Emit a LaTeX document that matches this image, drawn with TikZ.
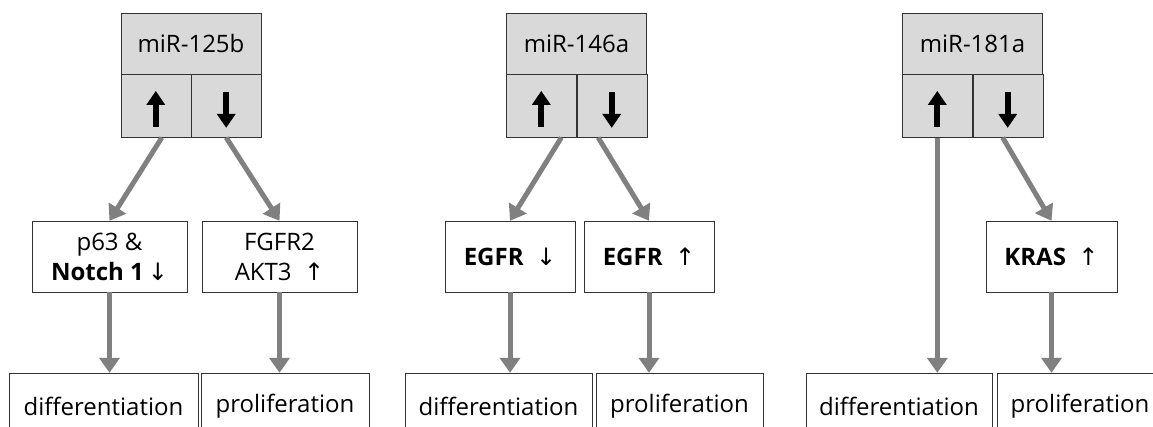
\documentclass[tikz,border=0pt]{standalone}
\usepackage{fontspec}
\setmainfont{Open Sans}
\newfontfamily\arrfont{DejaVu Sans}
\usepackage{xcolor}
\usepackage{tikz}
\usetikzlibrary{positioning,arrows.meta}
\definecolor{boxgray}{RGB}{217,217,217}
\definecolor{linkgray}{RGB}{128,128,128}

\begin{document}
\begin{tikzpicture}[x=1pt, y=1pt, node distance=213pt,
        font=\fontsize{24}{30}\selectfont,
        head/.style={draw=black!80, fill=boxgray, minimum width=140pt, minimum height=61pt, inner sep=0pt},
        cell/.style={draw=black!80, fill=boxgray, minimum width=70pt, minimum height=63pt, inner sep=0pt},
        gene/.style={draw=black!80, fill=white, minimum height=71pt, inner sep=0pt, align=center},
        fate/.style={draw=black!80, fill=white, minimum height=67pt, inner sep=0pt},
        link/.style={draw=linkgray, line width=5pt, -{Triangle[width=20pt,length=15pt]}},
        updown/.style={line width=6pt, -{Triangle[width=18pt,length=14pt]}}]
        \useasboundingbox (0,0) rectangle (1153,-427);
        \clip (0,0) rectangle (1153,-427);

        % miR-125b
        \node[head] (h1) at (191,-43.5) {miR-125b};
        \node[cell, anchor=north east] (u1) at (h1.south) {};
        \node[cell, anchor=north west] (d1) at (h1.south) {};
        \node[gene, minimum width=155pt] (m1) [below of=h1, xshift=-81.5pt] {p63 \&\\\textbf{Notch 1}\,{\arrfont ↓}};
        \node[gene, minimum width=155pt] (n1) [below of=h1, xshift=88.5pt] {FGFR2\\AKT3~~{\arrfont ↑}};
        \node[fate, minimum width=189pt] (f1) [below of=m1, node distance=150pt, xshift=-6pt] {differentiation};
        \node[fate, minimum width=168pt] (g1) [below of=n1, node distance=150pt, xshift=5.5pt] {proliferation};

        % miR-146a
        \node[head] (h2) [right of=h1, node distance=385.5pt] {miR-146a};
        \node[cell, anchor=north east] (u2) at (h2.south) {};
        \node[cell, anchor=north west] (d2) at (h2.south) {};
        \node[gene, minimum width=130pt] (m2) [below of=h2, xshift=-66.5pt] {\textbf{EGFR}~~{\arrfont ↓}};
        \node[gene, minimum width=130pt] (n2) [below of=h2, xshift=72.5pt] {\textbf{EGFR}~~{\arrfont ↑}};
        \node[fate, minimum width=187pt] (f2) [below of=m2, node distance=150pt, xshift=-11.5pt] {differentiation};
        \node[fate, minimum width=167pt] (g2) [below of=n2, node distance=150pt, xshift=30.5pt] {proliferation};

        % miR-181a
        \node[head] (h3) [right of=h2, node distance=396pt] {miR-181a};
        \node[cell, anchor=north east] (u3) at (h3.south) {};
        \node[cell, anchor=north west] (d3) at (h3.south) {};
        \node[gene, minimum width=131pt] (k3) [below of=h3, xshift=79pt] {\textbf{KRAS}~~{\arrfont ↑}};
        \node[fate, minimum width=186pt] (f3) [below of=h3, node distance=363pt, xshift=-73.5pt] {differentiation};
        \node[fate, minimum width=166pt] (g3) [below of=k3, node distance=150pt, xshift=28.5pt] {proliferation};

        % up / down marks
        \draw[updown] ([yshift=-21pt]u1.center) -- ([yshift=15pt]u1.center);
        \draw[updown] ([yshift=14pt]d1.center) -- ([yshift=-22pt]d1.center);
        \draw[updown] ([yshift=-21pt]u2.center) -- ([yshift=15pt]u2.center);
        \draw[updown] ([yshift=14pt]d2.center) -- ([yshift=-22pt]d2.center);
        \draw[updown] ([yshift=-21pt]u3.center) -- ([yshift=15pt]u3.center);
        \draw[updown] ([yshift=14pt]d3.center) -- ([yshift=-22pt]d3.center);

        \draw[link] ([xshift=6pt]u1.south) -- (m1.north);
        \draw[link] (d1.south) -- (n1.north);
        \draw[link] (m1.south) -- (m1.south |- f1.north);
        \draw[link] (n1.south) -- (n1.south |- g1.north);

        \draw[link] ([xshift=20pt]u2.south) -- (m2.north);
        \draw[link] ([xshift=-13.5pt]d2.south) -- (n2.north);
        \draw[link] (m2.south) -- (m2.south |- f2.north);
        \draw[link] (n2.south) -- (n2.south |- g2.north);

        \draw[link] (u3.south) -- (u3.south |- f3.north);
        \draw[link] ([xshift=-5pt]d3.south) -- (k3.north);
        \draw[link] (k3.south) -- (k3.south |- g3.north);

    \end{tikzpicture}
\end{document}
